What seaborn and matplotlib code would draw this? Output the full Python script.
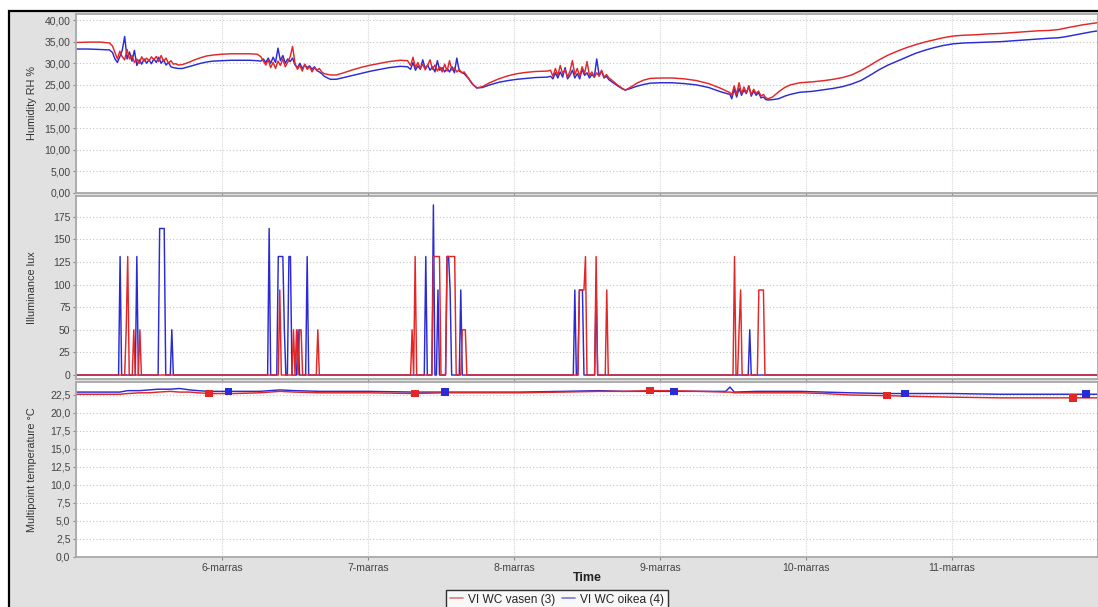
import numpy as np
import pandas as pd
import matplotlib
matplotlib.use("Agg")
import matplotlib.pyplot as plt
from matplotlib.patches import Rectangle
from matplotlib.lines import Line2D
import seaborn as sns

# ---------------- data ----------------
SER_RED = "VI WC vasen (3)"
SER_BLUE = "VI WC oikea (4)"

day_ticks_h = [24, 48, 72, 96, 120, 144]
day_labels = ["6-marras", "7-marras", "8-marras", "9-marras", "10-marras", "11-marras"]

# Humidity (hours from 5-marras 00:00)
rh_t = [0, 2, 4, 5.5,
        6.0, 6.4, 6.8, 7.2, 7.6, 8.0, 8.4, 8.8, 9.2, 9.6, 10.0, 10.4, 10.8, 11.2, 11.6, 12.0,
        12.4, 12.8, 13.2, 13.6, 14.0, 14.4, 14.8, 15.2, 15.6, 16.0, 16.4, 16.8,
        17.5, 18.5, 19.5, 20.5, 21.5, 22.5, 24, 25.5, 27, 28.5, 29.8,
        30.4, 30.8, 31.2, 31.6, 32.0, 32.4, 32.8, 33.2, 33.6, 34.0, 34.4, 34.8, 35.2, 35.6,
        36.0, 36.4, 36.8, 37.2, 37.6, 38.0, 38.4, 38.8, 39.2, 39.6, 40.0, 40.4, 40.8,
        41.8, 42.8, 44, 45.5, 47, 48.5, 50, 51.5, 53.3, 54.5,
        55.0, 55.4, 55.8, 56.2, 56.6, 57.0, 57.4, 57.8, 58.2, 58.6, 59.0, 59.4, 59.8, 60.2,
        60.6, 61.0, 61.4, 61.8, 62.2, 62.6, 63.0, 63.4, 63.8,
        64.5, 65.2, 65.9, 66.8, 68, 69.5, 71, 72.5, 74, 75.5, 77.5,
        78.0, 78.4, 78.8, 79.2, 79.6, 80.0, 80.4, 80.8, 81.2, 81.6, 82.0, 82.4, 82.8, 83.2,
        83.6, 84.0, 84.4, 84.8, 85.2, 85.6, 86.0, 86.4, 86.8, 87.2, 87.6, 88.0,
        89.0, 89.8, 90.3, 91.2, 92.2, 93.3, 94.4, 96, 98, 100, 102, 104, 106, 107.5,
        107.8, 108.2, 108.6, 109.0, 109.4, 109.8, 110.2, 110.6, 111.0, 111.4, 111.8, 112.2,
        112.6, 113.0, 113.4, 113.8,
        114.5, 115.5, 116.5, 117.4, 119, 121, 123, 124.5, 126, 127.5, 129, 130.5, 132,
        133.5, 135, 136.5, 138, 139.5, 141, 142.5, 144.2, 146, 148, 150, 152, 154, 156,
        158, 160, 161.5, 162.5, 164, 165.5, 167, 168]
rh_red = [34.8, 34.9, 34.9, 34.7,
          34.0, 32.5, 31.0, 32.8, 31.5, 30.8, 33.2, 31.0, 31.8, 30.2, 31.0, 30.0, 31.5, 30.5, 31.2, 30.6,
          31.5, 30.8, 31.6, 30.4, 31.8, 30.5, 31.2, 30.0, 30.6, 29.8, 29.9, 29.6,
          29.7, 30.2, 30.8, 31.3, 31.7, 31.9, 32.1, 32.2, 32.2, 32.2, 32.1,
          31.5, 30.5, 29.6, 30.8, 29.0, 30.2, 28.8, 30.5, 29.5, 31.0, 29.2, 30.2, 31.5, 33.9,
          30.0, 28.6, 29.5, 28.2, 29.8, 28.6, 29.2, 28.0, 29.0, 28.4, 28.8, 28.0, 27.6,
          27.3, 27.3, 27.8, 28.5, 29.1, 29.6, 30.0, 30.4, 30.7, 30.6,
          29.5, 31.4, 29.0, 30.2, 28.8, 29.8, 28.5, 29.5, 30.8, 28.6, 29.6, 28.2, 29.2, 28.0,
          29.8, 28.2, 30.6, 28.4, 29.0, 28.0, 28.6, 27.8, 28.0,
          26.6, 25.2, 24.3, 24.6, 25.5, 26.4, 27.1, 27.6, 27.9, 28.1, 28.2,
          28.4, 27.0, 28.8, 27.2, 29.5, 27.6, 28.6, 26.8, 28.2, 30.6, 27.4, 28.8, 27.0, 29.2,
          27.6, 30.4, 27.2, 28.0, 26.8, 27.8, 27.0, 28.4, 26.8, 27.4, 26.6, 26.2,
          25.0, 24.2, 23.8, 24.5, 25.4, 26.1, 26.5, 26.6, 26.6, 26.4, 26.0, 25.3, 24.2, 23.2,
          22.6, 24.8, 22.8, 25.5, 23.0, 24.5, 23.2, 24.6, 22.8, 24.0, 23.0, 23.6,
          22.4, 22.8, 22.0, 21.8,
          22.2, 23.4, 24.4, 25.0, 25.5, 25.7, 26.0, 26.3, 26.7, 27.3, 28.3, 29.5, 30.8,
          31.9, 32.8, 33.6, 34.3, 34.9, 35.4, 35.9, 36.3, 36.5, 36.6, 36.8, 36.9, 37.1, 37.3,
          37.5, 37.6, 37.8, 38.1, 38.5, 38.9, 39.2, 39.4]
rh_blue = [33.3, 33.3, 33.2, 33.1,
           32.5, 31.0, 30.2, 31.5, 33.0, 36.2, 31.0, 32.6, 30.5, 33.0, 29.5, 30.8, 29.8, 31.0, 30.0, 30.8,
           29.9, 31.0, 30.2, 31.4, 30.0, 30.8, 29.6, 30.2, 29.2, 29.0, 28.9, 28.8,
           28.8, 29.2, 29.6, 30.0, 30.3, 30.5, 30.6, 30.7, 30.7, 30.7, 30.6,
           30.5, 31.0, 30.2, 31.2, 30.0, 31.4, 30.2, 33.5, 30.6, 31.8, 30.0, 31.0, 30.4, 31.2,
           29.6, 29.0, 30.0, 28.8, 29.6, 29.0, 29.4, 28.6, 29.2, 28.3, 28.0, 27.6, 27.0,
           26.3, 26.3, 26.7, 27.2, 27.7, 28.2, 28.6, 29.0, 29.3, 29.2,
           28.6, 30.2, 28.4, 29.4, 28.6, 30.8, 28.8, 29.6, 28.4, 29.2, 28.0, 30.6, 28.4, 29.0,
           28.0, 28.8, 28.0, 29.2, 27.8, 31.2, 28.2, 27.9, 27.6,
           26.5, 25.1, 24.3, 24.4, 25.0, 25.6, 26.0, 26.3, 26.5, 26.7, 26.8,
           27.0, 26.4, 27.8, 26.6, 28.0, 26.8, 29.0, 26.4, 27.2, 28.4, 26.6, 27.6, 26.4, 28.6,
           27.2, 27.8, 26.6, 27.4, 26.8, 31.0, 27.2, 28.2, 26.6, 27.0, 26.2, 25.8,
           24.8, 24.1, 23.8, 24.2, 24.7, 25.1, 25.4, 25.5, 25.5, 25.3, 25.0, 24.4, 23.4, 22.8,
           21.8, 24.0, 22.2, 24.2, 22.6, 23.8, 23.0, 24.8, 22.4, 23.6, 22.6, 23.2,
           22.0, 22.2, 21.6, 21.5,
           21.6, 21.8, 22.4, 22.8, 23.3, 23.5, 23.9, 24.2, 24.6, 25.2, 26.0, 27.2, 28.5,
           29.6, 30.5, 31.4, 32.3, 33.0, 33.6, 34.1, 34.5, 34.7, 34.8, 34.9, 35.0, 35.2, 35.4,
           35.6, 35.8, 35.9, 36.1, 36.5, 36.9, 37.3, 37.5]

# Illuminance events: (start hour, end hour, lux)
lux_red_ev = [(8.3, 8.3, 50), (8.6, 8.6, 131), (9.4, 9.4, 50), (10.5, 10.5, 50),
              (33.5, 33.5, 94), (35.7, 35.7, 50), (36.2, 36.2, 50), (36.7, 36.7, 50),
              (37.1, 37.1, 50), (39.8, 39.8, 50),
              (55.2, 55.2, 50), (55.7, 55.7, 131), (58.8, 59.7, 131), (60.9, 62.3, 131),
              (63.6, 63.9, 50),
              (82.8, 83.4, 94), (83.8, 83.8, 131), (85.4, 85.4, 131), (87.2, 87.2, 94),
              (108.2, 108.2, 131), (109.0, 109.0, 50), (109.3, 109.3, 94), (112.3, 113.0, 94)]
lux_blue_ev = [(7.2, 7.2, 131), (9.9, 9.9, 131), (13.7, 14.5, 162), (15.8, 15.8, 50),
               (31.8, 31.8, 162), (33.2, 33.9, 131), (34.2, 34.2, 50), (34.9, 34.9, 131),
               (35.3, 35.3, 131), (36.5, 36.5, 50), (38.0, 38.0, 131),
               (57.5, 57.5, 131), (58.8, 58.8, 188), (59.5, 59.5, 94), (60.9, 61.4, 131),
               (61.6, 61.6, 94), (63.3, 63.3, 94),
               (82.1, 82.1, 94), (82.8, 83.3, 94), (85.4, 85.4, 94),
               (110.7, 110.7, 50)]

# Temperature
tmp_t = [0, 5, 7.2, 8.5, 10.5, 12, 13.5, 15.5, 17, 18.7, 20, 21.9, 26, 30.2, 33.5, 36, 40.1,
         48, 55.7, 60.7, 66, 73, 80, 86, 90, 94.4, 98, 102.6, 106.8, 107.5, 108.2, 112, 119,
         123, 127.2, 133.3, 138, 143.7, 151.9, 157, 163.9, 168]
tmp_red = [22.6, 22.6, 22.6, 22.7, 22.8, 22.8, 22.9, 23.0, 22.9, 22.9, 22.8, 22.7, 22.7, 22.8,
           23.0, 22.9, 22.8, 22.8, 22.7, 22.8, 22.8, 22.8, 22.9, 23.0, 23.0, 23.1, 23.1, 23.0,
           22.9, 22.9, 22.8, 22.8, 22.8, 22.7, 22.5, 22.4, 22.3, 22.2, 22.1, 22.1, 22.1, 22.1]
tmp_blue = [22.9, 22.9, 22.9, 23.1, 23.1, 23.2, 23.3, 23.3, 23.4, 23.2, 23.1, 23.0, 23.0, 23.0,
            23.2, 23.1, 23.0, 23.0, 22.9, 22.9, 22.9, 22.9, 23.0, 23.1, 23.0, 23.0, 23.0, 23.0,
            23.0, 23.6, 22.9, 23.0, 23.0, 22.9, 22.8, 22.7, 22.7, 22.7, 22.6, 22.6, 22.6, 22.6]
mark_red_t = [21.9, 55.7, 94.4, 133.3, 163.9]
mark_blue_t = [25.1, 60.7, 98.3, 136.3, 166.0]

rh_ticks = [0, 5, 10, 15, 20, 25, 30, 35, 40]
rh_labels = ["0,00", "5,00", "10,00", "15,00", "20,00", "25,00", "30,00", "35,00", "40,00"]
lux_ticks = [0, 25, 50, 75, 100, 125, 150, 175]
lux_labels = ["0", "25", "50", "75", "100", "125", "150", "175"]
tmp_ticks = [0, 2.5, 5, 7.5, 10, 12.5, 15, 17.5, 20, 22.5]
tmp_labels = ["0,0", "2,5", "5,0", "7,5", "10,0", "12,5", "15,0", "17,5", "20,0", "22,5"]

# ---------------- build frames ----------------
order = [SER_BLUE, SER_RED]
palette = {SER_RED: "#e32626", SER_BLUE: "#2b2bd6"}

df_rh = pd.concat([
    pd.DataFrame({"hour": rh_t, "val": rh_blue, "series": SER_BLUE}),
    pd.DataFrame({"hour": rh_t, "val": rh_red, "series": SER_RED}),
])

grid = np.round(np.arange(0, 168.001, 0.25), 2)


def lux_series(events):
    v = np.zeros_like(grid)
    for s, e, lv in events:
        i0 = int(round(s / 0.25))
        i1 = int(round(e / 0.25))
        v[i0:i1 + 1] = lv
    return v


df_lux = pd.concat([
    pd.DataFrame({"hour": grid, "val": lux_series(lux_blue_ev), "series": SER_BLUE}),
    pd.DataFrame({"hour": grid, "val": lux_series(lux_red_ev), "series": SER_RED}),
])

df_tmp = pd.concat([
    pd.DataFrame({"hour": tmp_t, "val": tmp_blue, "series": SER_BLUE}),
    pd.DataFrame({"hour": tmp_t, "val": tmp_red, "series": SER_RED}),
])
df_mk = pd.concat([
    pd.DataFrame({"hour": mark_blue_t, "val": np.interp(mark_blue_t, tmp_t, tmp_blue), "series": SER_BLUE}),
    pd.DataFrame({"hour": mark_red_t, "val": np.interp(mark_red_t, tmp_t, tmp_red), "series": SER_RED}),
])

# ---------------- style ----------------
sns.set_theme(style="white")
plt.rcParams["font.family"] = ["Liberation Sans", "DejaVu Sans"]

W, H = 1098, 607
fig = plt.figure(figsize=(W / 100, H / 100), dpi=100)
fig.patch.set_facecolor("white")
fig.patches.append(Rectangle((9 / W, -0.05), 1.2, (H - 11) / H + 0.05,
                             transform=fig.transFigure, facecolor="#e1e1e1",
                             edgecolor="black", lw=1.6, zorder=-10))


def make_ax(top_px, bot_px):
    return fig.add_axes([76 / W, 1 - bot_px / H, (W - 76) / W, (bot_px - top_px) / H])


ax1 = make_ax(14, 193)
ax2 = make_ax(196, 379)
ax3 = make_ax(382, 557)

tick_col = "#444444"
for ax, df, yl, ticks, labels, ylabel in [
    (ax1, df_rh, (0, 41.4), rh_ticks, rh_labels, "Humidity RH %"),
    (ax2, df_lux, (-4.4, 197.9), lux_ticks, lux_labels, "Illuminance lux"),
    (ax3, df_tmp, (0, 24.3), tmp_ticks, tmp_labels, "Multipoint temperature °C"),
]:
    ax.set_facecolor("white")
    sns.lineplot(data=df, x="hour", y="val", hue="series", hue_order=order,
                 palette=palette, estimator=None, sort=False, lw=1.05,
                 legend=False, ax=ax)
    ax.set_xlim(0, 168)
    ax.set_ylim(*yl)
    ax.set_yticks(ticks)
    ax.set_yticklabels(labels)
    ax.set_xticks(day_ticks_h)
    ax.grid(False)
    for y in ticks[1:]:
        ax.axhline(y, color="#c4c4c4", lw=0.8, ls=(0, (1, 2)), zorder=0)
    for x in day_ticks_h:
        ax.axvline(x, color="#d6d6d6", lw=0.8, ls=(0, (1, 1)), zorder=0)
    for sp in ax.spines.values():
        sp.set_color("#a8a8a8")
        sp.set_linewidth(1.3)
    ax.tick_params(axis="y", length=2, width=0.8, color="#888888", labelsize=7.5,
                   labelcolor=tick_col, pad=2, left=True)
    ax.tick_params(axis="x", length=2, width=0.8, color="#888888", labelsize=7.5,
                   labelcolor=tick_col, pad=2, bottom=True)
    ax.set_ylabel(ylabel, fontsize=7.8, color="#333333")
    ax.yaxis.set_label_coords(-0.038, 0.5)
    ax.set_xlabel("")

ax1.set_xticklabels([])
ax2.set_xticklabels([])
ax3.set_xticklabels(day_labels)

sns.scatterplot(data=df_mk, x="hour", y="val", hue="series", hue_order=order,
                palette=palette, marker="s", s=30, linewidth=0, legend=False,
                ax=ax3, zorder=5)
ax3.set_xlabel("")
ax3.set_ylabel("Multipoint temperature °C", fontsize=7.8, color="#333333")
ax3.yaxis.set_label_coords(-0.038, 0.5)

fig.text(587 / W, 1 - 578 / H, "Time", ha="center", va="center",
         fontsize=9, fontweight="bold", color="#222222")

handles = [Line2D([], [], color="#e07a7a", lw=1.2), Line2D([], [], color="#7a7ad8", lw=1.2)]
leg = fig.legend(handles, [SER_RED, SER_BLUE], loc="upper center",
                 bbox_to_anchor=(557 / W, 1 - 590 / H), ncol=2, frameon=True,
                 fancybox=False, fontsize=8.6, handlelength=1.1, handletextpad=0.4,
                 columnspacing=0.6, borderpad=0.3, borderaxespad=0)
leg.get_frame().set_edgecolor("black")
leg.get_frame().set_linewidth(1.0)
leg.get_frame().set_facecolor("white")

fig.savefig("out.png", dpi=100)
